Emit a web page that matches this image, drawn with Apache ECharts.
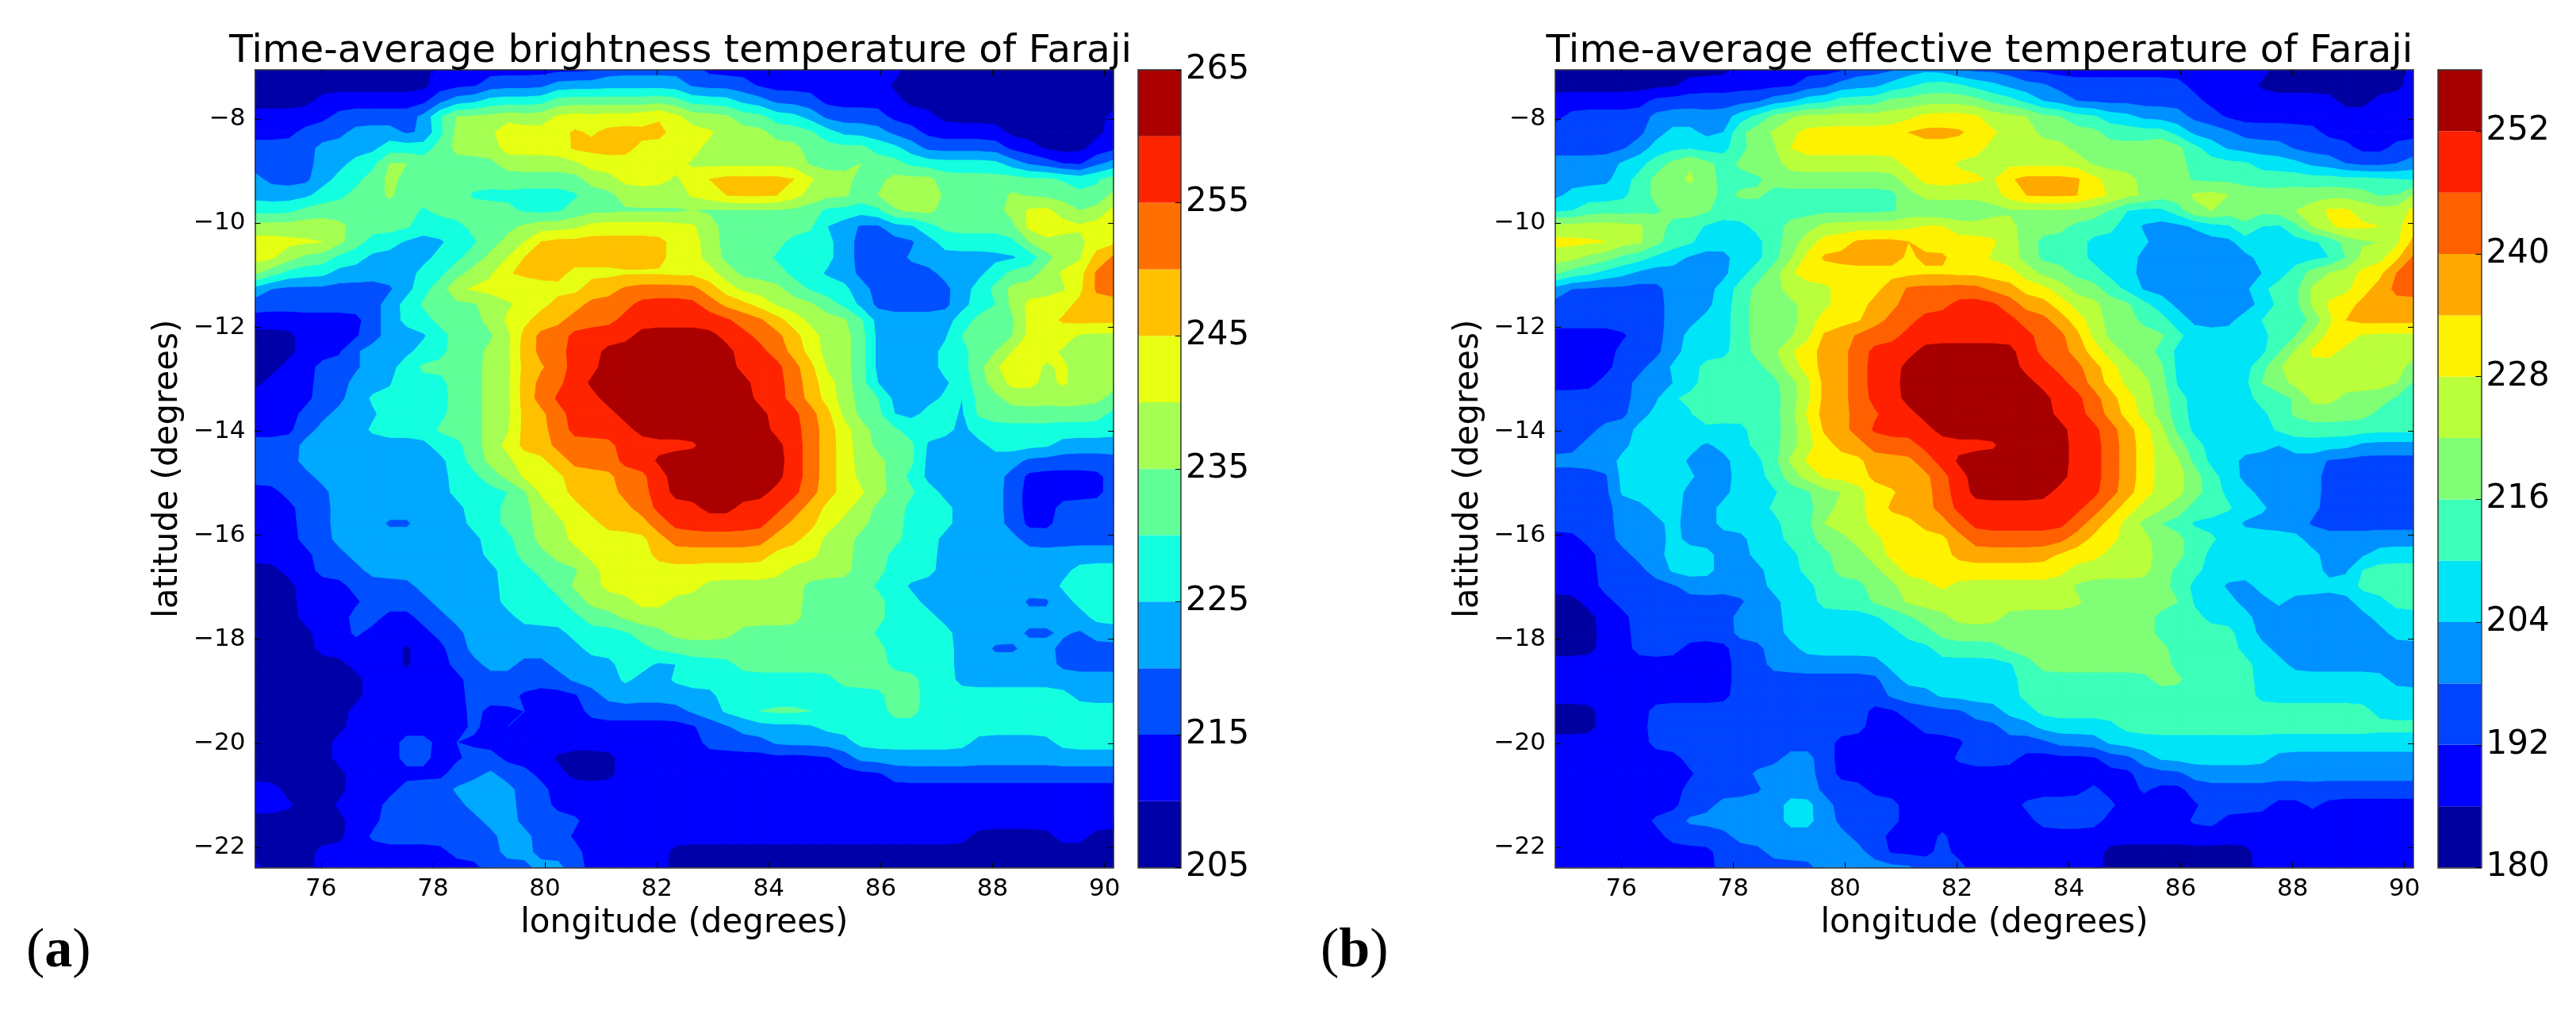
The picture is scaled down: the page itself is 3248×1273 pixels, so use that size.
<!DOCTYPE html>
<html><head><meta charset="utf-8">
<style>html,body{margin:0;background:#fff}#c{width:3248px;height:1273px}</style>
<script src="https://cdn.jsdelivr.net/npm/echarts@6/dist/echarts.min.js"></script>
</head><body><div id="c"></div>
<script>
// Contour level read per scan row: "level:lastColumn" runs (52 columns, 52 rows, top to bottom)
const brightnessRuns = [
'0:10 1:20 2:26 1:38 0:51',
'0:10 1:13 2:17 3:25 2:29 1:37 0:51',
'0:3 1:10 2:11 3:13 4:17 5:25 4:28 3:30 2:33 1:38 0:51',
'1:4 2:9 3:10 5:11 6:17 7:23 8:24 7:25 6:28 5:30 4:32 3:33 2:37 1:40 0:50 1:51',
'1:2 2:5 3:8 2:10 4:11 6:14 8:15 7:18 8:19 7:20 8:24 7:27 6:30 5:33 4:34 3:37 2:39 1:44 0:50 1:51',
'2:3 3:7 4:10 5:11 6:14 7:18 8:22 7:26 6:32 5:36 4:38 3:39 2:44 1:46 0:49 1:51',
'2:3 3:5 4:7 6:9 5:14 6:19 7:25 6:32 5:35 6:36 5:38 4:44 3:45 2:47 1:49 2:50 3:51',
'3:0 2:3 3:4 4:6 5:7 6:8 5:19 6:21 7:24 6:25 7:26 8:32 7:33 6:35 5:37 6:40 5:48 4:49 5:51',
'3:3 4:5 5:7 6:8 5:12 4:19 5:21 6:25 7:27 8:31 7:32 6:35 5:36 6:39 7:40 5:44 6:45 5:49 4:50 6:51',
'4:2 5:9 4:10 5:15 4:18 5:33 4:37 6:40 5:44 6:45 7:47 6:48 5:49 6:50 7:51',
'6:5 5:9 4:12 5:15 6:19 7:26 6:27 5:33 3:35 2:37 3:39 4:40 5:45 7:46 8:47 7:51',
'7:4 6:5 5:6 4:8 3:11 4:13 5:14 6:16 8:24 7:26 6:27 5:31 4:34 3:35 2:39 3:40 4:45 6:49 7:51',
'7:1 6:2 5:4 4:6 3:10 4:12 5:13 6:15 8:24 7:26 6:27 5:30 4:34 3:35 2:38 3:46 5:47 6:49 7:49 8:50 9:51',
'6:0 5:1 4:4 3:9 4:11 5:12 6:14 8:18 7:27 6:28 5:31 4:33 3:35 2:40 3:43 4:44 5:46 6:47 7:49 9:51',
'3:0 2:8 3:9 4:10 5:11 7:15 6:16 7:19 8:21 9:26 8:27 7:28 6:31 5:32 4:35 3:36 2:41 3:42 4:43 5:44 6:48 7:49 9:51',
'2:7 3:8 4:9 5:13 6:15 7:17 8:19 9:22 a:26 9:27 8:29 7:30 6:33 5:34 4:35 3:36 2:41 3:42 4:44 6:45 7:48 8:51',
'1:6 2:7 3:8 4:10 5:13 6:14 7:16 8:18 9:21 a:28 9:30 8:31 7:32 6:35 5:36 3:41 4:42 5:45 7:47 8:51',
'0:2 1:6 2:7 3:10 4:11 5:14 6:15 8:16 9:18 a:22 b:27 a:29 9:31 8:32 7:33 6:35 5:36 3:41 4:41 5:45 7:48 6:51',
'0:2 1:5 3:9 4:11 5:13 6:15 8:16 9:18 a:20 b:28 a:30 9:31 8:32 7:33 6:35 5:36 3:40 4:42 5:44 7:47 6:51',
'0:1 1:3 2:6 3:8 4:9 5:13 6:15 8:17 9:18 a:20 b:28 a:31 9:32 8:33 7:33 6:35 5:36 3:40 4:42 5:43 7:46 6:47 7:48 6:51',
'0:0 1:3 2:5 3:8 5:9 4:11 5:13 6:15 8:16 9:18 a:19 b:29 a:31 9:32 8:33 7:34 6:35 5:36 3:41 4:42 5:43 6:44 7:46 6:47 7:48 6:51',
'1:3 2:5 3:6 4:11 5:13 6:15 8:16 9:17 a:20 b:29 a:31 9:32 8:33 7:34 6:35 5:37 3:40 4:41 3:42 5:44 6:50 5:51',
'1:2 2:4 3:7 4:11 5:13 6:15 8:17 9:18 a:21 b:30 a:32 9:33 8:34 7:34 6:35 5:37 3:39 4:41 3:42 5:50 4:51',
'1:2 2:3 3:6 4:10 5:13 6:15 8:17 9:18 a:22 b:30 a:32 9:33 8:34 7:35 6:36 5:38 4:41 3:42 4:51',
'2:2 3:10 4:12 5:13 6:14 7:15 8:17 9:21 a:26 b:31 a:32 9:33 8:34 7:35 6:36 5:39 3:43 4:47 3:51',
'2:2 3:11 4:12 5:13 6:15 7:17 8:18 9:21 a:23 b:31 a:32 9:33 8:34 7:35 6:37 5:39 3:45 2:51',
'2:3 3:11 4:13 5:14 6:15 7:18 8:21 9:23 a:24 b:31 a:32 9:33 8:34 7:35 6:37 5:38 4:39 3:44 2:45 1:50 2:51',
'1:1 2:4 3:11 4:15 5:16 7:18 8:21 9:23 a:24 b:30 a:32 9:33 8:34 7:36 6:37 5:39 4:40 3:44 2:45 1:50 2:51',
'1:2 2:4 3:12 4:14 5:16 6:17 7:19 8:22 9:23 a:26 b:28 a:31 9:32 8:33 7:35 6:36 5:38 4:41 3:44 2:45 1:47 2:51',
'1:2 2:4 3:7 2:9 3:12 4:14 5:16 6:18 7:20 8:23 9:24 a:30 9:31 8:33 7:34 6:36 5:38 4:41 3:44 2:45 1:47 2:51',
'1:2 2:4 3:13 4:15 5:16 6:18 7:23 8:24 9:30 8:32 7:33 6:35 5:38 4:40 3:45 2:51',
'1:3 2:5 3:13 4:15 5:17 6:19 7:23 8:30 7:33 6:35 5:37 4:40 3:51',
'0:1 1:3 2:6 3:14 4:16 5:19 6:20 7:31 6:35 5:37 4:40 3:48 4:51',
'0:2 1:5 2:9 3:14 4:17 5:18 6:20 7:26 6:32 5:36 4:38 3:47 4:51',
'0:2 1:6 2:10 3:14 4:18 5:19 6:22 7:24 6:32 5:37 4:39 3:45 2:47 3:48 4:51',
'0:2 1:5 2:7 1:9 2:11 3:15 4:19 5:21 6:32 5:37 4:40 3:49 4:51',
'0:3 1:5 2:6 1:10 2:12 3:18 4:22 5:24 6:28 5:36 4:41 3:45 2:47 3:48 2:49 3:51',
'0:3 1:8 0:9 1:11 2:12 3:19 4:23 5:37 4:41 3:43 2:45 3:47 2:51',
'0:5 1:8 0:9 1:11 2:13 3:15 2:17 3:21 4:23 3:25 4:28 5:37 4:41 3:47 2:51',
'0:6 1:12 2:18 3:21 4:22 3:24 4:34 5:39 4:41 3:51',
'0:6 1:12 2:15 1:19 2:20 3:27 4:37 5:39 4:48 3:51',
'0:5 1:12 2:13 1:15 2:16 1:19 2:25 3:27 4:29 5:33 4:37 5:39 4:51',
'0:5 1:12 2:13 1:14 2:15 1:26 2:28 3:33 4:51',
'0:4 1:8 2:10 1:11 2:12 1:26 2:30 3:35 4:42 3:47 4:51',
'0:4 1:8 2:10 1:12 2:14 1:17 0:21 1:34 2:35 3:51',
'0:5 1:11 2:13 3:14 2:16 1:18 0:21 1:31 0:32 1:37 2:51',
'1:1 0:5 1:8 2:11 3:15 2:17 1:51',
'1:2 0:4 1:7 2:12 3:15 2:17 1:51',
'0:5 1:7 2:13 3:15 2:19 1:51',
'0:5 1:6 2:14 3:16 2:18 1:42 0:47 1:49 0:51',
'0:3 1:11 2:14 3:16 2:19 1:24 0:51',
'1:0 0:3 1:13 2:16 3:18 2:19 1:24 0:51'
];
const effectiveRuns = [
'0:10 1:17 2:20 3:23 2:27 1:42 0:50 1:51',
'0:7 1:14 2:16 3:19 4:21 5:24 4:26 3:29 2:37 1:41 0:50 1:51',
'1:5 2:12 3:14 4:16 5:19 6:25 5:27 4:28 3:30 2:38 1:46 0:48 1:51',
'1:0 2:5 3:10 4:11 5:12 6:13 7:21 8:25 7:28 6:30 5:32 4:34 3:37 2:39 1:51',
'2:5 3:6 4:8 3:10 6:12 7:14 8:20 9:24 8:26 7:28 6:32 5:36 4:37 3:40 2:45 1:51',
'2:4 3:5 4:10 5:11 6:13 8:25 7:30 6:35 7:36 6:37 5:38 4:39 3:43 2:47 1:49 2:51',
'3:3 4:5 5:6 6:7 7:8 6:9 5:10 6:13 7:20 8:23 7:31 6:37 5:41 4:44 3:46 2:50 3:51',
'3:3 4:4 5:5 6:7 7:8 6:9 5:12 6:20 7:21 8:25 7:26 9:31 8:32 7:34 6:37 5:50 4:51',
'3:0 4:4 5:5 6:9 5:10 6:12 5:20 6:21 7:26 8:27 9:31 8:33 7:35 6:37 7:40 6:48 5:50 7:51',
'4:1 5:6 6:9 5:20 6:21 5:25 6:32 5:33 4:36 5:37 7:39 6:43 7:45 8:47 7:50 8:51',
'7:5 6:6 5:8 4:11 5:13 6:15 7:21 8:23 7:27 6:30 5:33 4:34 3:38 4:40 6:41 4:43 5:44 7:45 8:49 7:50 8:51',
'8:3 7:5 6:6 5:8 4:12 5:13 6:14 7:15 8:17 9:21 8:26 7:27 6:28 5:31 4:35 3:40 4:46 6:49 7:50 9:51',
'7:1 6:3 5:5 4:7 3:10 4:12 5:13 6:14 8:15 9:20 8:21 9:23 8:25 7:27 6:28 5:31 4:34 3:41 4:46 5:47 7:49 8:50 a:51',
'6:0 5:2 4:4 3:10 4:11 5:12 6:13 8:27 7:28 6:30 5:32 4:34 3:42 4:43 5:44 6:45 7:47 8:49 a:51',
'3:0 2:6 3:9 4:10 5:11 6:13 7:16 8:19 9:20 a:25 9:27 8:29 7:30 6:32 5:33 4:34 3:41 5:44 7:47 8:48 9:49 a:51',
'2:6 3:9 4:10 5:11 6:14 7:16 8:18 9:20 a:23 b:26 a:27 9:29 8:30 7:32 6:34 5:35 4:36 3:42 5:44 7:45 8:47 9:51',
'2:6 3:8 4:10 5:11 6:14 7:15 8:18 9:19 a:21 b:27 a:29 9:30 8:31 7:32 6:34 5:36 4:37 3:40 4:41 5:45 7:46 9:51',
'1:4 2:6 3:7 4:10 5:11 6:14 7:15 9:17 a:20 b:28 a:30 9:31 8:31 7:32 6:36 5:37 4:42 5:44 7:45 8:47 7:51',
'1:3 2:6 3:7 4:10 5:11 6:13 8:15 9:17 a:18 b:21 c:27 b:28 a:30 9:31 8:32 7:33 6:35 5:36 4:42 5:43 7:44 8:46 7:51',
'1:3 2:5 3:6 4:8 5:12 6:13 7:14 8:15 9:17 a:18 b:20 c:27 b:29 a:31 9:32 8:33 7:34 6:36 4:41 5:42 7:45 8:45 7:50 6:51',
'1:2 2:4 3:7 4:8 5:13 6:14 7:15 9:17 a:18 b:20 c:28 b:30 a:31 9:32 8:33 7:35 6:36 4:41 6:43 7:44 8:45 7:50 5:51',
'2:4 3:6 5:13 6:14 7:15 9:17 a:18 b:20 c:29 b:31 a:32 9:33 8:34 7:35 6:36 5:37 4:41 5:44 7:46 6:49 5:51',
'2:4 3:5 4:8 6:9 5:13 6:14 7:14 8:15 9:17 a:19 b:21 c:29 b:31 a:32 9:33 8:34 7:35 6:36 5:37 4:42 5:43 6:48 5:51',
'2:2 3:4 4:11 5:13 6:14 7:15 9:17 a:18 b:22 c:30 b:32 a:33 9:34 8:35 7:36 5:37 4:42 5:51',
'2:1 3:4 4:8 3:9 4:11 5:13 6:14 7:15 8:16 9:18 a:21 b:26 c:30 b:32 a:33 9:34 8:35 7:36 6:37 5:38 4:42 3:43 4:47 3:51',
'3:3 4:7 3:10 4:12 5:13 6:13 7:14 8:18 9:21 a:22 b:23 c:30 b:32 a:33 9:34 8:35 7:37 6:37 5:38 4:40 3:45 2:51',
'2:3 4:8 3:10 4:12 5:13 6:14 7:15 8:18 9:22 a:23 b:24 c:30 b:32 a:33 9:34 8:35 7:37 6:38 5:39 4:40 3:45 2:51',
'2:3 4:7 3:10 4:13 5:15 6:17 7:18 8:20 9:22 a:23 b:24 c:29 b:32 a:33 9:34 8:35 7:37 6:38 5:39 4:41 3:45 2:51',
'2:3 3:5 4:7 3:9 4:12 5:15 6:16 7:18 8:19 9:22 a:23 b:31 a:32 9:33 8:34 7:36 6:37 5:40 4:42 3:45 2:51',
'2:3 3:6 4:7 3:9 4:13 5:15 7:18 8:21 9:23 a:24 b:30 a:31 9:32 8:33 7:34 6:35 5:37 4:40 3:44 2:51',
'1:1 2:3 3:6 4:7 3:11 4:13 5:15 6:17 7:19 8:23 9:24 a:30 9:31 8:33 7:35 6:37 5:39 4:44 3:51',
'1:2 2:4 3:6 4:9 3:11 4:14 5:16 6:18 7:19 8:23 9:29 8:32 7:35 6:37 5:38 4:45 3:48 4:51',
'1:2 2:5 3:6 4:9 3:12 4:14 5:16 6:19 7:20 8:30 7:35 6:36 5:38 4:45 3:47 5:51',
'1:2 2:7 3:12 4:15 5:18 6:20 7:22 8:23 7:30 6:36 5:37 4:39 3:41 4:47 5:51',
'0:1 1:3 2:11 3:13 4:15 5:18 6:20 7:31 6:37 4:40 3:42 4:43 3:47 4:49 5:51',
'0:2 1:4 2:10 3:13 4:19 5:21 6:23 7:26 6:35 5:38 4:41 3:48 4:51',
'0:2 1:4 2:10 3:13 4:20 5:22 6:35 5:40 4:41 3:49 4:51',
'0:2 1:4 2:7 1:10 2:12 3:14 4:22 5:26 6:36 5:40 4:42 3:51',
'1:10 2:12 3:19 4:27 5:28 6:36 5:41 4:43 3:51',
'1:10 2:19 3:20 4:27 5:35 6:37 5:41 4:49 3:51',
'1:10 2:19 3:22 4:27 5:41 4:51',
'0:2 1:5 2:18 1:20 2:24 3:26 4:28 5:48 4:51',
'0:2 1:5 2:18 1:21 2:26 3:28 4:33 5:51',
'1:5 2:16 1:24 2:29 3:32 4:51',
'1:7 2:13 3:15 2:16 1:23 2:27 1:32 2:34 3:35 4:42 3:51',
'1:8 2:11 3:15 2:16 1:34 2:37 3:51',
'1:7 2:12 3:15 2:18 1:31 2:32 1:34 2:35 1:37 2:51',
'1:7 2:9 3:13 4:15 3:16 2:20 1:27 2:33 1:38 2:42 1:44 2:45 1:51',
'1:5 2:7 3:13 4:15 3:16 2:20 1:28 2:32 1:37 2:39 1:51',
'1:6 2:10 3:17 2:19 1:22 2:23 1:51',
'1:9 2:12 3:18 2:19 1:22 2:23 1:32 0:41 1:51',
'1:9 2:15 3:21 2:24 1:32 0:41 1:51'
];
const lonRange = [74.82, 90.16];
const latRange = [-22.39, -7.05];
const lonTicks = [76, 78, 80, 82, 84, 86, 88, 90];
const latTicks = [-8, -10, -12, -14, -16, -18, -20, -22];
const brightnessColors = ['#0000a8','#0000ff','#0050ff','#00a8ff','#14ffe0','#60ff98','#a4ff52','#e6ff12','#ffc000','#ff7000','#ff2400','#aa0000'];
const effectiveColors = ['#0000a0','#0000ff','#0044ff','#0090ff','#00e4f8','#3cffba','#80ff76','#baff3c','#fff200','#ffa800','#ff6000','#ff2000','#a60000'];
const brightnessStart = 205, brightnessStep = 5, brightnessLabels = [205,215,225,235,245,255,265];
const effectiveStart = 180, effectiveStep = 6, effectiveLabels = [180,192,204,216,228,240,252];

const FONT = 'DejaVu Sans', INK = '#000', FRAME = '#333';
function decode(runs){
  const raw = runs.map(r=>{
    const out = new Array(52); let prev = -1;
    r.split(' ').forEach(t=>{
      const [l,e] = t.split(':'); const lv = parseInt(l,16), end = +e;
      for(let c=prev+1;c<=end;c++) out[c]=lv;
      if(end>prev) prev=end;
    });
    for(let c=prev+1;c<52;c++) out[c]=out[prev];
    return out;
  });
  // Round the contour corners when drawing: each node is blended with its four neighbours.
  return raw.map((row,r)=>row.map((v,c)=>{
    const g=(i,j)=>raw[Math.max(0,Math.min(51,i))][Math.max(0,Math.min(51,j))];
    return (4*v+g(r-1,c)+g(r+1,c)+g(r,c-1)+g(r,c+1))/8;
  }));
}
const dLon=(lonRange[1]-lonRange[0])/51, dLat=(latRange[1]-latRange[0])/51;
function cells(field){
  const items=[];
  for(let L=0;L<16;L++) for(let r=0;r<51;r++) for(let c=0;c<51;c++){
    const v=[field[r][c],field[r][c+1],field[r+1][c+1],field[r+1][c]];
    const lo=Math.round(Math.min(...v)), hi=Math.round(Math.max(...v));
    if(L<lo||L>hi) continue;
    items.push([lonRange[0]+c*dLon, latRange[1]-r*dLat, L, r, c]);
  }
  return items;
}
function contourSeries(runs,colors,xi,yi){
  const field=decode(runs);
  return {type:'custom',coordinateSystem:'cartesian2d',xAxisIndex:xi,yAxisIndex:yi,clip:true,silent:true,animation:false,progressive:0,
    data:cells(field),
    renderItem(p,api){
      const lon=api.value(0),lat=api.value(1),L=api.value(2),r=api.value(3),c=api.value(4);
      const geo=[[lon,lat],[lon+dLon,lat],[lon+dLon,lat-dLat],[lon,lat-dLat]];
      const v=[field[r][c],field[r][c+1],field[r+1][c+1],field[r+1][c]];
      const t=L-0.5, pts=[];
      for(let k=0;k<4;k++){
        const n=(k+1)%4,a=geo[k],b=geo[n],ia=v[k]>=t,ib=v[n]>=t;
        if(ia) pts.push(api.coord(a));
        if(ia!==ib){const f=(t-v[k])/(v[n]-v[k]);pts.push(api.coord([a[0]+(b[0]-a[0])*f,a[1]+(b[1]-a[1])*f]));}
      }
      const col=colors[L];
      return {type:'polygon',shape:{points:pts},style:{fill:col,stroke:col,lineWidth:1}};
    }};
}
function cbarSeries(colors,step,start,xi,yi){
  return colors.map((col,i)=>({type:'bar',stack:'cb'+xi,xAxisIndex:xi,yAxisIndex:yi,barWidth:'100%',silent:true,animation:false,
    itemStyle:{color:col},data:[i===0?start+step:step]}));
}
const fmt=v=>String(v).replace('-','\u2212');
const grids=[{left:321.5,top:88,width:1082.5,height:1005.5},{left:1435,top:88,width:54,height:1005.5},
             {left:1961,top:88,width:1082,height:1005.5},{left:3074,top:88,width:54.5,height:1005.5}];
function lonAxis(g,pos,show,name){
  return {type:'value',gridIndex:g,position:pos,min:lonRange[0],max:lonRange[1],z:6,
    name:name,nameLocation:'middle',nameGap:50,nameTextStyle:{fontFamily:FONT,fontSize:42,color:INK,verticalAlign:'top'},
    axisLine:{show:true,onZero:false,lineStyle:{color:FRAME,width:1.5}},
    axisTick:{show:true,inside:true,length:7,customValues:lonTicks,lineStyle:{color:'#000',width:1}},
    axisLabel:{show:show,customValues:lonTicks,margin:12,fontFamily:FONT,fontSize:31,color:INK,showMinLabel:true,showMaxLabel:true},
    splitLine:{show:false}};
}
function latAxis(g,pos,show,name){
  return {type:'value',gridIndex:g,position:pos,min:latRange[0],max:latRange[1],z:6,
    name:name,nameLocation:'middle',nameGap:88,nameTextStyle:{fontFamily:FONT,fontSize:42,color:INK},
    axisLine:{show:true,onZero:false,lineStyle:{color:FRAME,width:1.5}},
    axisTick:{show:true,inside:true,length:7,customValues:latTicks,lineStyle:{color:'#000',width:1}},
    axisLabel:{show:show,customValues:latTicks,margin:12,fontFamily:FONT,fontSize:31,color:INK,formatter:fmt,showMinLabel:true,showMaxLabel:true},
    splitLine:{show:false}};
}
function cbX(g){return {type:'category',gridIndex:g,data:['c'],boundaryGap:true,z:6,axisLabel:{show:false},axisTick:{show:false},
   axisLine:{show:true,lineStyle:{color:FRAME,width:1.5}}};}
function cbXtop(g){return {type:'category',gridIndex:g,position:'top',data:['c'],z:6,axisLabel:{show:false},axisTick:{show:false},
   axisLine:{show:true,onZero:false,lineStyle:{color:FRAME,width:1.5}}};}
function cbY(g,pos,start,n,step,labels,show){
  return {type:'value',gridIndex:g,position:pos,min:start,max:start+n*step,z:6,
    axisLine:{show:true,onZero:false,lineStyle:{color:FRAME,width:1.5}},
    axisTick:{show:show,inside:true,length:7,customValues:labels,lineStyle:{color:'#000',width:1}},
    axisLabel:{show:show,customValues:labels,margin:6,fontFamily:FONT,fontSize:42,color:INK,showMinLabel:true,showMaxLabel:true},
    splitLine:{show:false}};
}
const option={
  backgroundColor:'#fff',animation:false,
  title:[
    {text:'Time-average brightness temperature of Faraji',left:853,top:36,textAlign:'center',textStyle:{fontFamily:FONT,fontWeight:'normal',fontSize:48.7,color:INK}},
    {text:'Time-average effective temperature of Faraji',left:2491,top:36,textAlign:'center',textStyle:{fontFamily:FONT,fontWeight:'normal',fontSize:48.7,color:INK}},
    {text:'{p|(}{b|a}{p|)}',left:28,top:1160,textStyle:{rich:{p:{fontFamily:'Liberation Serif',fontWeight:'normal',fontSize:70,color:INK},b:{fontFamily:'Liberation Serif',fontWeight:'bold',fontSize:70,color:INK}}}},
    {text:'{p|(}{b|b}{p|)}',left:1660,top:1160,textStyle:{rich:{p:{fontFamily:'Liberation Serif',fontWeight:'normal',fontSize:70,color:INK},b:{fontFamily:'Liberation Serif',fontWeight:'bold',fontSize:70,color:INK}}}}
  ],
  grid:grids,
  xAxis:[lonAxis(0,'bottom',true,'longitude (degrees)'),lonAxis(0,'top',false,''),cbX(1),cbXtop(1),
         lonAxis(2,'bottom',true,'longitude (degrees)'),lonAxis(2,'top',false,''),cbX(3),cbXtop(3)],
  yAxis:[latAxis(0,'left',true,'latitude (degrees)'),latAxis(0,'right',false,''),
         cbY(1,'right',brightnessStart,brightnessColors.length,brightnessStep,brightnessLabels,true),cbY(1,'left',brightnessStart,brightnessColors.length,brightnessStep,brightnessLabels,false),
         latAxis(2,'left',true,'latitude (degrees)'),latAxis(2,'right',false,''),
         cbY(3,'right',effectiveStart,effectiveColors.length,effectiveStep,effectiveLabels,true),cbY(3,'left',effectiveStart,effectiveColors.length,effectiveStep,effectiveLabels,false)],
  series:[
    contourSeries(brightnessRuns,brightnessColors,0,0),
    ...cbarSeries(brightnessColors,brightnessStep,brightnessStart,2,2),
    contourSeries(effectiveRuns,effectiveColors,4,4),
    ...cbarSeries(effectiveColors,effectiveStep,effectiveStart,6,6)
  ]
};
const chart=echarts.init(document.getElementById('c'),null,{renderer:'canvas',width:3248,height:1273});
chart.setOption(option);
</script></body></html>
